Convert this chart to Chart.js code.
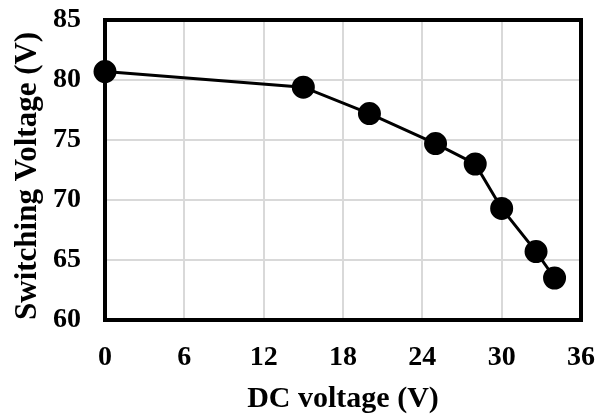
<!DOCTYPE html>
<html>
<head>
<meta charset="utf-8">
<script src="https://cdn.jsdelivr.net/npm/chart.js@4"></script>
<style>
    html, body { margin: 0; padding: 0; background: #fff; }
    #wrap { width: 603px; height: 417px; }
</style>
</head>
<body>
<div id="wrap"><canvas id="switchChart"></canvas></div>
<script>
// Data
const dcVoltage = [0, 15, 20, 25, 28, 30, 32.6, 34];
const switchingVoltage = [80.7, 79.4, 77.2, 74.7, 73.0, 69.3, 65.7, 63.5];
const xTicks = [0, 6, 12, 18, 24, 30, 36];
const yTicks = [60, 65, 70, 75, 80, 85];

const serif = '"Liberation Serif", "Times New Roman", serif';

// black box round the plot area
const frame = {
    id: 'frame',
    afterDraw(chart) {
        const a = chart.chartArea;
        const ctx = chart.ctx;
        ctx.save();
        ctx.strokeStyle = '#000';
        ctx.lineWidth = 4;
        ctx.strokeRect(a.left, a.top, a.right - a.left, a.bottom - a.top);
        ctx.restore();
    }
};

const points = dcVoltage.map((x, i) => ({ x: x, y: switchingVoltage[i] }));

new Chart(document.getElementById('switchChart'), {
    type: 'scatter',
    data: {
        datasets: [{
            data: points,
            showLine: true,
            borderColor: '#000',
            borderWidth: 3,
            backgroundColor: '#000',
            pointRadius: 10,
            pointHoverRadius: 10,
            clip: false
        }]
    },
    options: {
        responsive: true,
        maintainAspectRatio: false,
        animation: false,
        layout: { padding: { top: 20, right: 22, left: 0, bottom: 0 } },
        plugins: {
            legend: { display: false },
            tooltip: { enabled: false }
        },
        scales: {
            x: {
                type: 'linear',
                min: 0,
                max: 36,
                afterBuildTicks: s => { s.ticks = xTicks.map(v => ({ value: v })); },
                afterFit: s => {
                    s.height = 97;
                    s.paddingLeft = 0;
                    s.paddingRight = 0;
                },
                grid: { color: '#d9d9d9', lineWidth: 2, drawTicks: false },
                border: { display: false },
                ticks: {
                    color: '#000',
                    padding: 21,
                    maxRotation: 0,
                    font: { family: serif, size: 28, weight: 'bold' }
                },
                title: {
                    display: true,
                    text: 'DC voltage (V)',
                    color: '#000',
                    padding: { top: 0, bottom: 0 },
                    font: { family: serif, size: 30, weight: 'bold' }
                }
            },
            y: {
                type: 'linear',
                min: 60,
                max: 85,
                afterBuildTicks: s => { s.ticks = yTicks.map(v => ({ value: v })); },
                afterFit: s => {
                    s.width = 105;
                    s.paddingTop = 0;
                    s.paddingBottom = 0;
                },
                grid: { color: '#d9d9d9', lineWidth: 2, drawTicks: false },
                border: { display: false },
                ticks: {
                    color: '#000',
                    padding: 24,
                    font: { family: serif, size: 28, weight: 'bold' }
                },
                title: {
                    display: true,
                    text: 'Switching Voltage (V)',
                    align: 'start',
                    color: '#000',
                    padding: { top: 9, bottom: 0 },
                    font: { family: serif, size: 31, weight: 'bold' }
                }
            }
        }
    },
    plugins: [frame]
});
</script>
</body>
</html>
